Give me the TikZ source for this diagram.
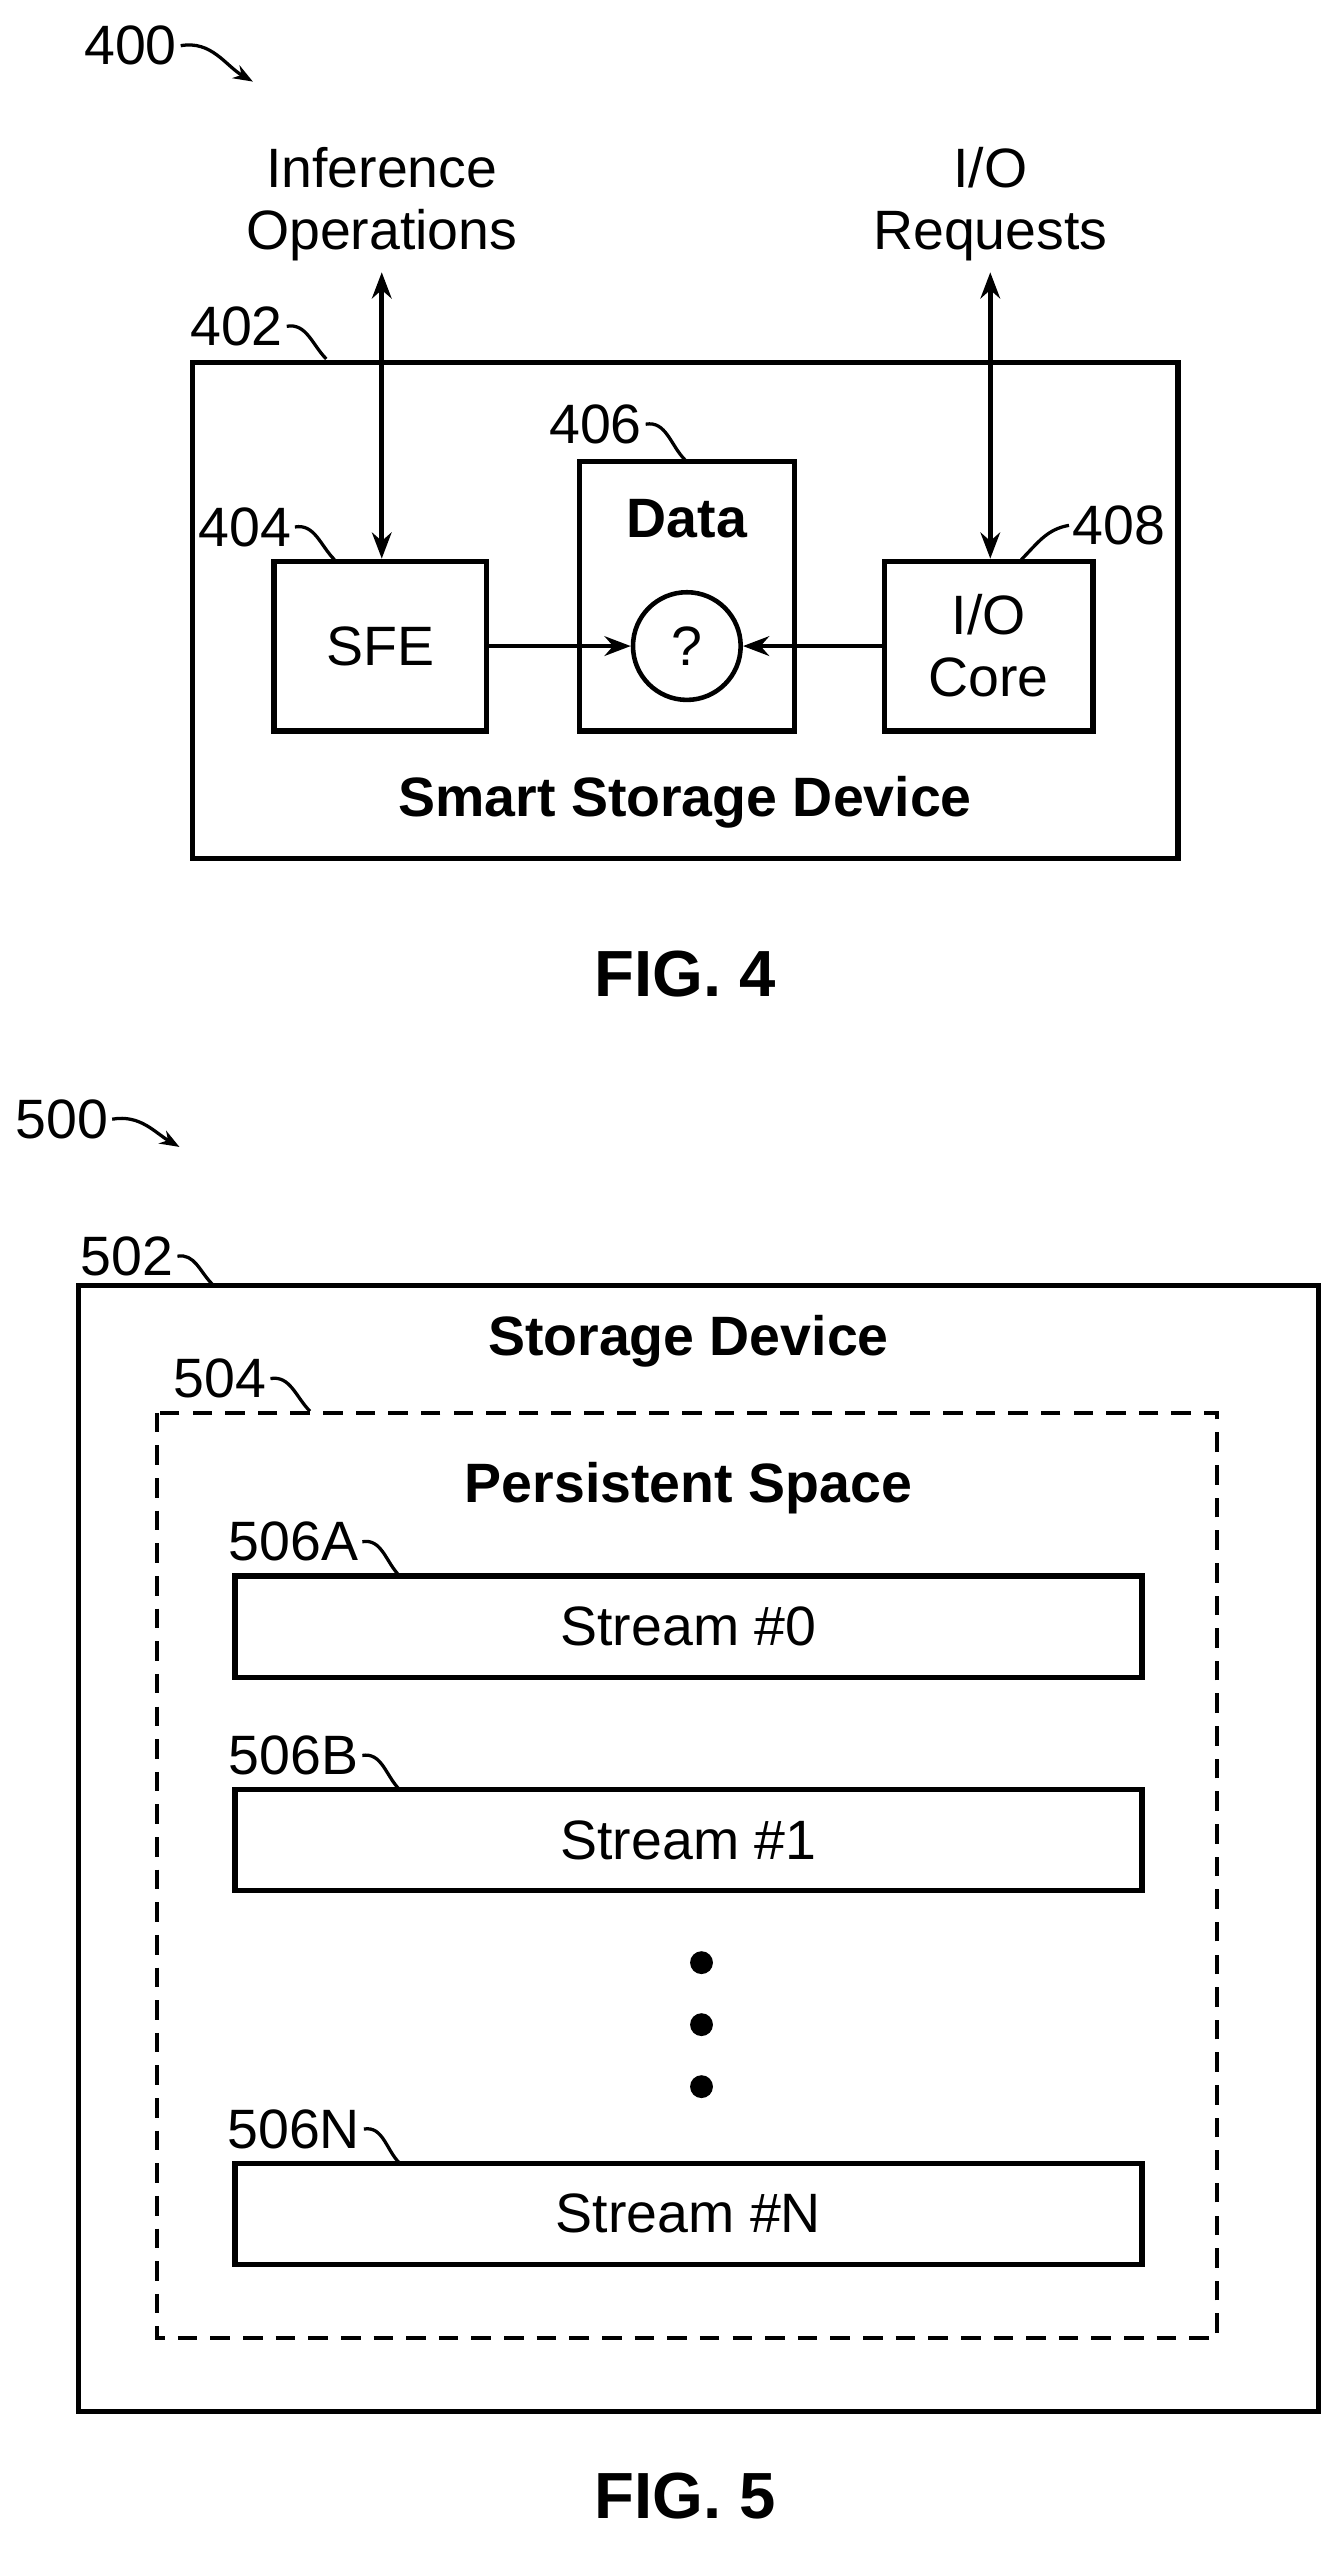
\documentclass[tikz,border=0pt]{standalone}
\usepackage{fontspec}
\setmainfont{Liberation Sans}
\usetikzlibrary{arrows.meta}
\begin{document}
\begin{tikzpicture}[x=0.5pt,y=-0.5pt,
  box/.style={draw, line width=1.6pt, inner sep=0pt},
  lbl/.style={font=\fontsize{17}{19}\selectfont, inner sep=1pt},
  txt/.style={font=\fontsize{17}{19}\selectfont, align=center},
  btxt/.style={font=\fontsize{17}{19}\selectfont\bfseries},
  lead/.style={line width=1pt},
  arr/.style={line width=1.4pt, -{Stealth[length=8pt,width=6pt]}},
  darr/.style={line width=1.4pt, {Stealth[length=8pt,width=6pt]}-{Stealth[length=8pt,width=6pt]}}]

\path [use as bounding box] (0,0) rectangle (810,1571);

% FIG 4
\node [lbl] (n400) at (80,28) {400};
\draw [lead, -{Stealth[length=6pt]}] (n400.east) to[out=10,in=150] (155,50);

\node [txt] (inf) at (234,125) {Inference\\Operations};
\node [txt] (ioreq) at (607,125) {I/O\\Requests};

\draw [box] (118,222) rectangle (722,526);
\node [lbl] (n402) at (145,200) {402};
\draw [lead] (n402.east) to[out=10,in=135] (200,220);

\node [box, minimum width=65pt, minimum height=52pt, txt] (sfe) at (233,396) {SFE};
\node [lbl] (n404) at (150,323) {404};
\draw [lead] (n404.east) to[out=10,in=135] (205,343);

\draw [box] (355,283) rectangle (487,448);
\node [btxt] (data) at (421,318) {Data};
\node [draw, circle, line width=1.4pt, minimum size=33pt, txt, inner sep=0pt] (unk) at (421,396) {?};
\node [lbl] (n406) at (365,260) {406};
\draw [lead] (n406.east) to[out=10,in=135] (420,282);

\node [box, minimum width=64pt, minimum height=52pt, txt] (core) at (606,396) {I/O\\Core};
\node [lbl] (n408) at (686,322) {408};
\draw [lead] (n408.west) to[out=190,in=45] (626,343);

\draw [darr] (inf.south) -- (sfe.north -| inf.south);
\draw [darr] (ioreq.south) -- (core.north -| ioreq.south);
\draw [arr] (sfe.east) -- (unk.west);
\draw [arr] (core.west) -- (unk.east);

\node [btxt] (ssd) at (420,492) {Smart Storage Device};
\node [btxt, font=\fontsize{20}{22}\selectfont\bfseries] (fig4) at (420,597) {FIG. 4};

% FIG 5
\node [lbl] (n500) at (38,686) {500};
\draw [lead, -{Stealth[length=6pt]}] (n500.east) to[out=10,in=150] (110,703);

\draw [box] (48,788) rectangle (808,1478);
\node [lbl] (n502) at (78,770) {502};
\draw [lead] (n502.east) to[out=10,in=135] (130,787);
\node [btxt] (sd) at (422,822) {Storage Device};

\draw [box, dashed, line width=1.2pt, dash pattern=on 6pt off 4pt] (96,866) rectangle (746,1433);
\node [lbl] (n504) at (135,845) {504};
\draw [lead] (n504.east) to[out=10,in=135] (190,865);
\node [btxt] (ps) at (422,912) {Persistent Space};

\foreach \name/\y/\s/\t in {a/997/A/0, b/1128/B/1, n/1357/N/N}{
  \node [box, minimum width=278pt, minimum height=31pt, txt] (s\name) at (422,\y) {Stream \#\t};
  \node [lbl] (l\name) at (180,\y-52) {506\s};
  \draw [lead] (l\name.east) to[out=10,in=135] (245,\y-31);
}
\foreach \y in {1203,1241,1279}
  \fill (430,\y) circle (7);

\node [btxt, font=\fontsize{20}{22}\selectfont\bfseries] (fig5) at (420,1530) {FIG. 5};
\end{tikzpicture}
\end{document}
